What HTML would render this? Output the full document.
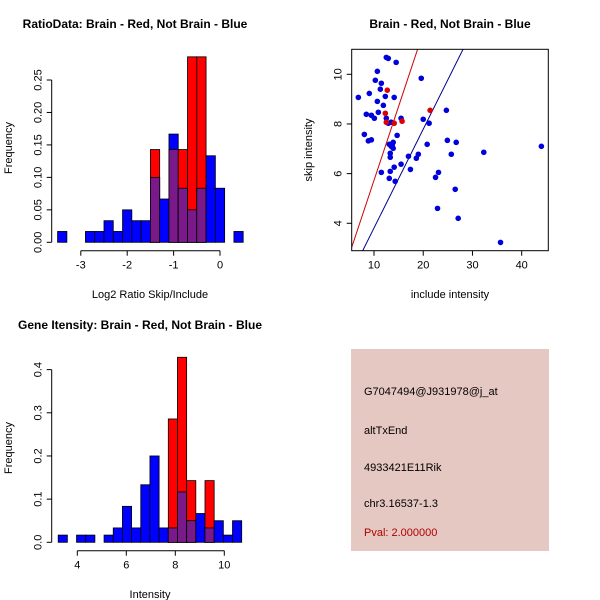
<!DOCTYPE html>
<html><head><meta charset="utf-8">
<style>
html,body{margin:0;padding:0;background:#fff;}
svg{display:block;font-family:"Liberation Sans",sans-serif;}
</style></head>
<body>
<svg id="chart" width="600" height="600" viewBox="0 0 600 600">
<rect x="0" y="0" width="600" height="600" fill="#fff"/>
<g id="p1"></g>
<g id="p2"></g>
<g id="p3"></g>
<g id="p4">
  <rect x="351" y="349" width="198" height="202" fill="#e6c8c2"/>
  <text x="364" y="395" font-size="11" fill="#000">G7047494@J931978@j_at</text>
  <text x="364" y="434" font-size="11" fill="#000">altTxEnd</text>
  <text x="364" y="471" font-size="11" fill="#000">4933421E11Rik</text>
  <text x="364" y="507" font-size="11" fill="#000">chr3.16537-1.3</text>
  <text x="364" y="536" font-size="11" fill="#b00000">Pval: 2.000000</text>
</g>
</svg>
<script>
// ---- Ratio histogram data ----
const ratioBinStart = -3.5;
const ratioBinWidth = 0.2;
const ratioBlue = [0.0167,0,0,0.0167,0.0167,0.0333,0.0167,0.05,0.0333,0.0333,0.1,0.0667,0.1667,0.0833,0.05,0.0833,0.1333,0.0833,0,0.0167];
const ratioRed  = [0,0,0,0,0,0,0,0,0,0,0.1429,0,0.1429,0.1429,0.2857,0.2857,0,0,0,0];
const ratioXTicks = [-3,-2,-1,0];
const ratioYTicks = [0,0.05,0.10,0.15,0.20,0.25];
const ratioYLabels = ["0.00","0.05","0.10","0.15","0.20","0.25"];
// ---- Gene intensity histogram data ----
const intBinStart = 3.22;
const intBinWidth = 0.3745;
const intBlue = [0.0167,0,0.0167,0.0167,0,0.0167,0.0333,0.0833,0.0333,0.1333,0.2,0.0333,0.0333,0.1167,0.05,0.0667,0.0333,0.05,0.0167,0.05];
const intRed  = [0,0,0,0,0,0,0,0,0,0,0,0,0.2857,0.4286,0.1429,0,0.1429,0,0,0];
const intXTicks = [4,6,8,10];
const intYTicks = [0,0.1,0.2,0.3,0.4];
const intYLabels = ["0.0","0.1","0.2","0.3","0.4"];
// ---- Scatter data ----
const blueX = [6.82,8.04,8.44,8.85,9.05,9.46,9.46,10.07,10.27,10.68,10.68,10.88,11.29,11.49,11.49,11.9,12.3,12.5,12.9,12.5,12.9,13.1,13.3,13.3,13.3,13.5,13.7,13.9,13.9,14.1,14.1,14.3,14.5,14.7,15.5,15.5,17.0,17.4,18.6,19.0,19.6,20.0,20.8,21.2,22.5,23.1,22.9,24.7,24.9,25.7,26.5,26.7,27.1,32.3,35.7,44.0,13.1,13.5];
const blueY = [9.07,7.58,8.39,7.32,9.23,7.36,8.35,8.23,9.76,10.12,8.91,8.47,9.40,9.64,6.05,8.75,9.11,10.68,10.64,8.23,8.03,5.81,6.09,6.82,6.66,8.07,7.14,7.26,7.02,9.07,6.26,5.69,10.48,7.54,8.23,6.38,6.70,6.17,6.62,6.78,9.84,8.19,7.18,8.03,5.85,6.05,4.60,8.55,7.34,6.78,5.37,7.26,4.20,6.86,3.23,7.10,7.18,7.10];
const redX = [12.7,12.3,14.1,15.7,21.4,12.5];
const redY = [9.36,8.43,8.03,8.11,8.55,8.07];
const lineSlopes = [0.596,0.398];
const lineIntercepts = [-0.23,-0.17];
const lineColors = ["#d00000","#00008b"];
const scatXTicks = [10,20,30,40];
const scatYTicks = [4,6,8,10];

const NS="http://www.w3.org/2000/svg";
function mk(parent,tag,attrs,text){const e=document.createElementNS(NS,tag);for(const k in attrs)e.setAttribute(k,attrs[k]);if(text!==undefined)e.textContent=text;parent.appendChild(e);return e;}

function histogram(g,o){
  const sx=v=>o.x0px+(v-o.x0v)*o.xs;
  const sy=v=>o.y0px-v*o.ys;
  for(let i=0;i<o.blue.length;i++){
    const a=o.binStart+i*o.binW, b=a+o.binW;
    const x1=sx(a), x2=sx(b), w=x2-x1;
    const bl=o.blue[i], rd=o.red[i];
    if(bl>0){const r=mk(g,'rect',{x:x1,y:sy(bl),width:w,height:sy(0)-sy(bl),fill:'#0000ff',stroke:'#000','stroke-width':0.8});
      }
    if(rd>0){const r=mk(g,'rect',{x:x1,y:sy(rd),width:w,height:sy(0)-sy(rd),fill:'#ff0000',stroke:'#000','stroke-width':0.8});
      }
    const m=Math.min(bl,rd);
    if(m>0){const r=mk(g,'rect',{x:x1,y:sy(m),width:w,height:sy(0)-sy(m),fill:'#7a1a8a',stroke:'#000','stroke-width':0.8});
      }
  }
  // y axis
  const yt=o.yTicks;
  const ya=mk(g,'line',{x1:o.yAxisX,x2:o.yAxisX,y1:sy(yt[0]),y2:sy(yt[yt.length-1]),stroke:'#000'});
  
  yt.forEach((t,i)=>{mk(g,'line',{x1:o.yAxisX-5,x2:o.yAxisX,y1:sy(t),y2:sy(t),stroke:'#000'});
    const tx=mk(g,'text',{x:o.yAxisX-10,y:sy(t),'font-size':11,'text-anchor':'middle',transform:`rotate(-90 ${o.yAxisX-10} ${sy(t)})`},o.yLabels[i]);
    });
  const xt=o.xTicks;
  const xa=mk(g,'line',{x1:sx(xt[0]),x2:sx(xt[xt.length-1]),y1:o.xAxisY,y2:o.xAxisY,stroke:'#000'});
  
  xt.forEach(t=>{mk(g,'line',{x1:sx(t),x2:sx(t),y1:o.xAxisY,y2:o.xAxisY+5,stroke:'#000'});
    const tx=mk(g,'text',{x:sx(t),y:o.xAxisY+18,'font-size':11,'text-anchor':'middle'},String(t));
    });
  const ti=mk(g,'text',{x:o.titleX,y:o.titleY,'font-size':12,'font-weight':'bold','text-anchor':'middle'},o.title);
  
  const xl=mk(g,'text',{x:o.xLabelX,y:o.xLabelY,'font-size':11,'text-anchor':'middle'},o.xLabel);
  
  const yl=mk(g,'text',{x:12,y:o.yLabelY,'font-size':11,'text-anchor':'middle',transform:`rotate(-90 12 ${o.yLabelY})`},'Frequency');
  
}

histogram(document.getElementById('p1'),{blue:ratioBlue,red:ratioRed,binStart:ratioBinStart,binW:ratioBinWidth,
  x0v:0,x0px:220,xs:46.4,y0px:242.3,ys:649.2,yAxisX:51.7,xAxisY:250.7,xTicks:ratioXTicks,yTicks:ratioYTicks,yLabels:ratioYLabels,
  title:'RatioData: Brain - Red, Not Brain - Blue',titleX:135,titleY:28,xLabel:'Log2 Ratio Skip/Include',xLabelX:150,xLabelY:298,yLabelY:148});
histogram(document.getElementById('p3'),{blue:intBlue,red:intRed,binStart:intBinStart,binW:intBinWidth,
  x0v:4,x0px:77.3,xs:24.5,y0px:542.3,ys:431.7,yAxisX:51.7,xAxisY:550.7,xTicks:intXTicks,yTicks:intYTicks,yLabels:intYLabels,
  title:'Gene Itensity: Brain - Red, Not Brain - Blue',titleX:140,titleY:329,xLabel:'Intensity',xLabelX:150,xLabelY:598,yLabelY:448});

// scatter
(function(){
  const g=document.getElementById('p2');
  const L=351.7,R=548.3,T=49.3,B=250.7;
  const sx=v=>374+(v-10)*4.923;
  const sy=v=>74.3-(v-10)*24.83;
  const clip=mk(g,'clipPath',{id:'sc'});mk(clip,'rect',{x:L,y:T,width:R-L,height:B-T});
  const lg=mk(g,'g',{'clip-path':'url(#sc)'});
  lineSlopes.forEach((s,i)=>{const x1=0,x2=50;
    const ln=mk(lg,'line',{x1:sx(x1),y1:sy(lineIntercepts[i]+s*x1),x2:sx(x2),y2:sy(lineIntercepts[i]+s*x2),stroke:lineColors[i],'stroke-width':1});
    });
  blueX.forEach((x,i)=>{const c=mk(lg,'circle',{cx:sx(x),cy:sy(blueY[i]),r:2.8,fill:'#0000dd'});
    });
  redX.forEach((x,i)=>{const c=mk(lg,'circle',{cx:sx(x),cy:sy(redY[i]),r:2.8,fill:'#dd0000'});
    });
  const box=mk(g,'rect',{x:L,y:T,width:R-L,height:B-T,fill:'none',stroke:'#000'});
  
  scatXTicks.forEach(t=>{mk(g,'line',{x1:sx(t),x2:sx(t),y1:B,y2:B+5,stroke:'#000'});
    const tx=mk(g,'text',{x:sx(t),y:B+18,'font-size':11,'text-anchor':'middle'},String(t));
    });
  scatYTicks.forEach(t=>{mk(g,'line',{x1:L-5,x2:L,y1:sy(t),y2:sy(t),stroke:'#000'});
    const tx=mk(g,'text',{x:L-10,y:sy(t),'font-size':11,'text-anchor':'middle',transform:`rotate(-90 ${L-10} ${sy(t)})`},String(t));
    });
  const ti=mk(g,'text',{x:450,y:28,'font-size':12,'font-weight':'bold','text-anchor':'middle'},'Brain - Red, Not Brain - Blue');
  
  const xl=mk(g,'text',{x:450,y:298,'font-size':11,'text-anchor':'middle'},'include intensity');
  
  const yl=mk(g,'text',{x:312,y:150,'font-size':11,'text-anchor':'middle',transform:'rotate(-90 312 150)'},'skip intensity');
  
})();
</script>
</body></html>
